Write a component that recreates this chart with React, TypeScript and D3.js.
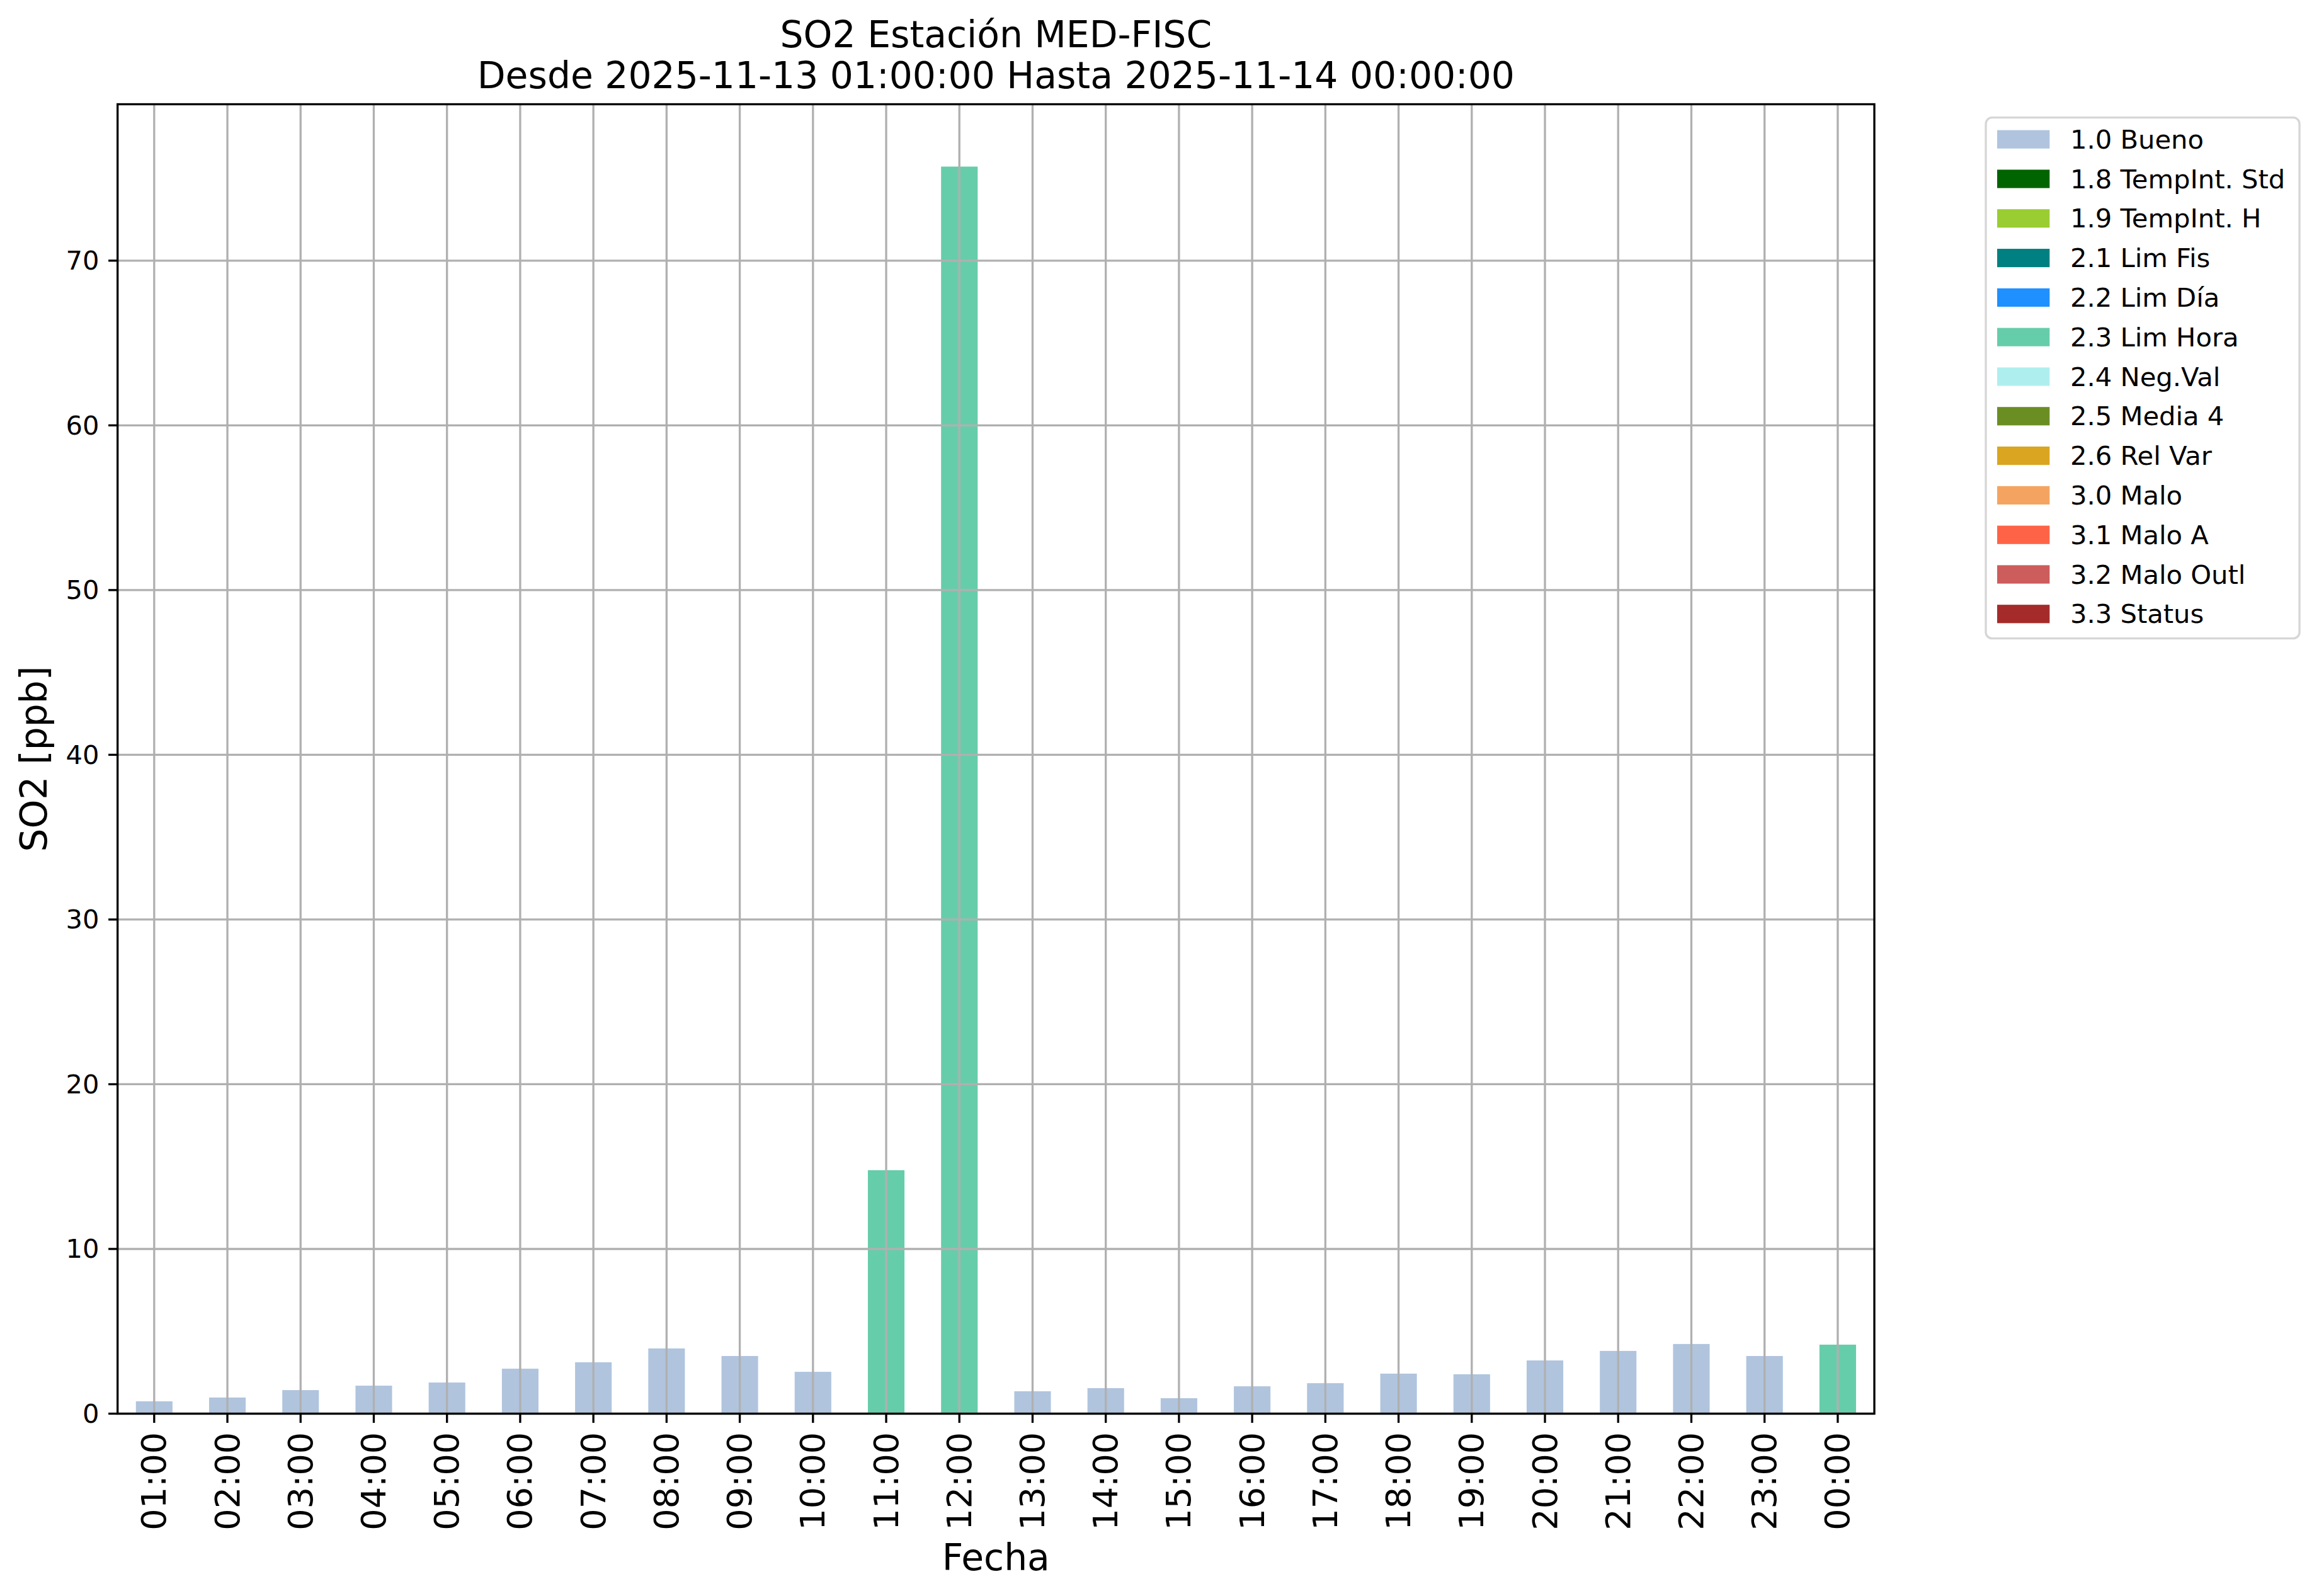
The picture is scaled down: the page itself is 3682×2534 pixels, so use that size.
import React from "react";
import * as d3 from "d3";

const hours = ["01:00","02:00","03:00","04:00","05:00","06:00","07:00","08:00","09:00","10:00","11:00","12:00","13:00","14:00","15:00","16:00","17:00","18:00","19:00","20:00","21:00","22:00","23:00","00:00"];
const values = [0.75,0.98,1.43,1.70,1.89,2.73,3.12,3.96,3.50,2.54,14.78,75.71,1.36,1.55,0.94,1.66,1.85,2.43,2.39,3.23,3.81,4.23,3.50,4.19];
const flags = ["1.0 Bueno","1.0 Bueno","1.0 Bueno","1.0 Bueno","1.0 Bueno","1.0 Bueno","1.0 Bueno","1.0 Bueno","1.0 Bueno","1.0 Bueno","2.3 Lim Hora","2.3 Lim Hora","1.0 Bueno","1.0 Bueno","1.0 Bueno","1.0 Bueno","1.0 Bueno","1.0 Bueno","1.0 Bueno","1.0 Bueno","1.0 Bueno","1.0 Bueno","1.0 Bueno","2.3 Lim Hora"];
const legendLabels = ["1.0 Bueno","1.8 TempInt. Std","1.9 TempInt. H","2.1 Lim Fis","2.2 Lim Día","2.3 Lim Hora","2.4 Neg.Val","2.5 Media 4","2.6 Rel Var","3.0 Malo","3.1 Malo A","3.2 Malo Outl","3.3 Status"];
const legendColors = ["#b0c4de","#006400","#9acd32","#008080","#1e90ff","#66cdaa","#afeeee","#6b8e23","#daa520","#f4a460","#ff6347","#cd5c5c","#a52a2a"];
const yTicks = [0,10,20,30,40,50,60,70];
const titleLines = ["SO2 Estación MED-FISC","Desde 2025-11-13 01:00:00 Hasta 2025-11-14 00:00:00"];

const W = 3682, H = 2534;
const L = 186.7, R = 2976, T = 165.5, B = 2244.5;
const FONT = "DejaVu Sans";
const lw = 3.33;

export default function App() {
  const x = d3.scaleBand<string>().domain(hours).range([L, R]).paddingInner(0.5).paddingOuter(0.25);
  const maxV = d3.max(values) as number;
  const y = d3.scaleLinear().domain([0, maxV * 1.05]).range([B, T]);
  const color = d3.scaleOrdinal<string, string>().domain(legendLabels).range(legendColors);
  const cx = (h: string) => (x(h) as number) + x.bandwidth() / 2;
  const midX = (L + R) / 2;

  const legX = 3153, legY = 186.7, legW = 498, legH = 827;
  const rowY0 = 221.2, rowStep = 62.8;

  return (
    <div style={{ position: "absolute", left: 0, top: 0 }}>
      <svg width={W} height={H} viewBox={`0 0 ${W} ${H}`} style={{ display: "block", background: "#fff" }} fontFamily={FONT}>
        <rect x={0} y={0} width={W} height={H} fill="#fff" />
        {/* bars */}
        {hours.map((h, i) => (
          <rect key={h} x={x(h)} y={y(values[i])} width={x.bandwidth()} height={B - y(values[i])} fill={color(flags[i])} />
        ))}
        {/* grid */}
        {hours.map((h) => (
          <line key={"gx" + h} x1={cx(h)} x2={cx(h)} y1={T} y2={B} stroke="#b0b0b0" strokeWidth={lw} />
        ))}
        {yTicks.map((t) => (
          <line key={"gy" + t} x1={L} x2={R} y1={y(t)} y2={y(t)} stroke="#b0b0b0" strokeWidth={lw} />
        ))}
        {/* spines */}
        <rect x={L} y={T} width={R - L} height={B - T} fill="none" stroke="#000" strokeWidth={lw} strokeLinejoin="miter" />
        {/* y ticks */}
        {yTicks.map((t) => (
          <g key={"yt" + t}>
            <line x1={L - 14.6} x2={L} y1={y(t)} y2={y(t)} stroke="#000" strokeWidth={lw} />
            <text x={L - 14.6 - 14.6} y={y(t)} textAnchor="end" dominantBaseline="central" fontSize={41.67} fill="#000">{t}</text>
          </g>
        ))}
        {/* x ticks */}
        {hours.map((h) => (
          <g key={"xt" + h}>
            <line x1={cx(h)} x2={cx(h)} y1={B} y2={B + 14.6} stroke="#000" strokeWidth={lw} />
            <text transform={`translate(${cx(h)},${B + 14.6 + 14.6}) rotate(-90)`} textAnchor="end" dominantBaseline="central" fontSize={54.17} fill="#000">{h}</text>
          </g>
        ))}
        {/* axis labels */}
        <text x={midX} y={2493} textAnchor="middle" fontSize={58.33} fill="#000">Fecha</text>
        <text transform={`translate(74,${(T + B) / 2}) rotate(-90)`} textAnchor="middle" fontSize={58.33} fill="#000">SO2 [ppb]</text>
        {/* title */}
        <text x={midX} y={75} textAnchor="middle" fontSize={58.33} fill="#000">{titleLines[0]}</text>
        <text x={midX} y={140} textAnchor="middle" fontSize={58.33} fill="#000">{titleLines[1]}</text>
        {/* legend */}
        <rect x={legX} y={legY} width={legW} height={legH} rx={10} ry={10} fill="#fff" stroke="#d6d6d6" strokeWidth={lw} />
        {legendLabels.map((lab, i) => {
          const cy = rowY0 + i * rowStep;
          return (
            <g key={"lg" + lab}>
              <rect x={3171} y={cy - 14.6} width={83.3} height={29.2} fill={color(lab)} />
              <text x={3287} y={cy + 14.6} fontSize={41.67} fill="#000">{lab}</text>
            </g>
          );
        })}
      </svg>
    </div>
  );
}
